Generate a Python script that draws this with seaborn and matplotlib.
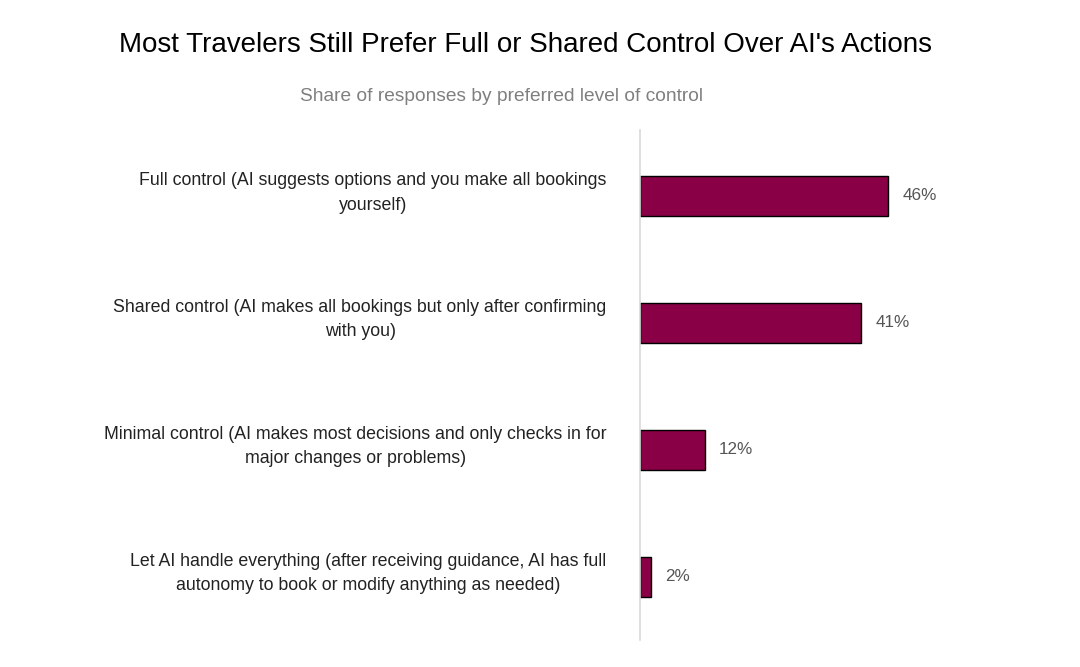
import matplotlib
matplotlib.use("Agg")
import matplotlib.pyplot as plt
import matplotlib.transforms as mtransforms
import seaborn as sns
import pandas as pd

# 数据
categories = [
    "Full control (AI suggests options and you make all bookings\nyourself)",
    "Shared control (AI makes all bookings but only after confirming\nwith you)",
    "Minimal control (AI makes most decisions and only checks in for\nmajor changes or problems)",
    "Let AI handle everything (after receiving guidance, AI has full\nautonomy to book or modify anything as needed)",
]
shares = [46, 41, 12, 2]

df = pd.DataFrame({"category": categories, "share": shares})

sns.set_style("white")
plt.rcParams['font.family'] = ['Liberation Sans', 'DejaVu Sans']

fig = plt.figure(figsize=(10.8, 6.67), dpi=100)
ax = fig.add_axes([0.5926, 0.0405, 0.40, 0.765])

sns.barplot(data=df, x="share", y="category", orient="h", color="#8A0046",
            edgecolor="black", linewidth=1, width=0.315, saturation=1, ax=ax)

ax.set_xlim(0, 80)
ax.set_ylim(3.5, -0.52)
ax.set_xlabel("")
ax.set_ylabel("")
ax.set_xticks([])

# 只保留左侧浅灰色竖线
for s in ["top", "right", "bottom"]:
    ax.spines[s].set_visible(False)
ax.spines["left"].set_color("#d9d9d9")
ax.spines["left"].set_linewidth(1.2)

# 类别标签：居中多行，略高于柱子中心
ax.tick_params(axis="y", length=0, pad=24, labelsize=12.8, labelcolor="#222222")
shift = mtransforms.ScaledTranslation(0, 9 / 100, fig.dpi_scale_trans)
for lbl in ax.get_yticklabels():
    lbl.set_multialignment("center")
    lbl.set_linespacing(1.6)
    lbl.set_transform(lbl.get_transform() + shift)

# 数值标签
ax.bar_label(ax.containers[0], labels=[f"{v}%" for v in shares],
             padding=10, fontsize=12.3, color="#555555")

fig.text(0.487, 0.932, "Most Travelers Still Prefer Full or Shared Control Over AI's Actions",
         ha="center", va="center", fontsize=20, color="black")
fig.text(0.464, 0.855, "Share of responses by preferred level of control",
         ha="center", va="center", fontsize=13.8, color="#7f7f7f")

plt.savefig("out.png", dpi=100)
